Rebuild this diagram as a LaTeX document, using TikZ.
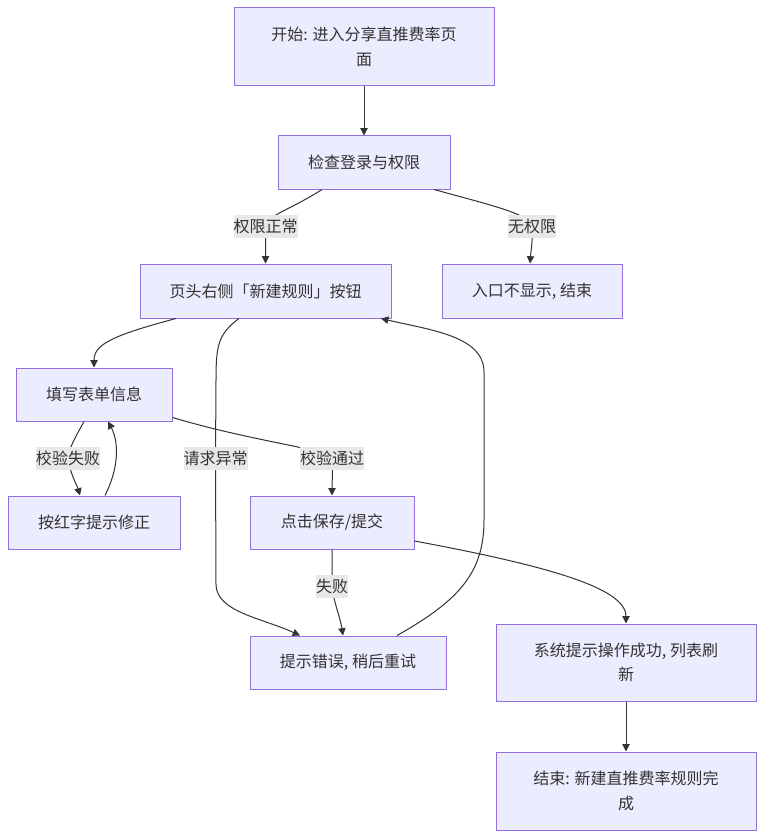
\documentclass[tikz,border=0pt]{standalone}
\usepackage{fontspec}
\newfontfamily\cjkfont{Noto Sans CJK SC}
\usetikzlibrary{arrows.meta,calc}
\definecolor{boxfill}{HTML}{ECECFF}
\definecolor{boxline}{HTML}{9370DB}
\definecolor{edgegray}{HTML}{333333}
\definecolor{txtgray}{HTML}{333333}
\definecolor{lblfill}{HTML}{E8E8E8}
\tikzset{
  flowbox/.style={draw=boxline, fill=boxfill, line width=0.75pt, text=txtgray,
    font=\cjkfont\fontsize{12pt}{18.5pt}\selectfont, align=center, inner sep=0pt},
  flowedge/.style={draw=edgegray, line width=0.75pt, -{Triangle[length=5.5pt,width=5.5pt]}},
  edgelabel/.style={fill=lblfill, text=txtgray, font=\cjkfont\fontsize{12pt}{18.5pt}\selectfont,
    inner xsep=0pt, inner ysep=0pt, minimum height=17.25pt}
}
\begin{document}
\begin{tikzpicture}[x=0.75pt, y=-0.75pt]
            \useasboundingbox (0,0) rectangle (764,838);
            % boxes
            \node[flowbox, minimum width=195pt, minimum height=58.5pt] (start) at (364,47) {开始: 进入分享直推费率页\\面};
            \node[flowbox, minimum width=129pt, minimum height=39.75pt] (check) at (364,162.5) {检查登录与权限};
            \node[flowbox, minimum width=188.25pt, minimum height=40.5pt] (btn) at (265.5,291) {页头右侧「新建规则」按钮};
            \node[flowbox, minimum width=135pt, minimum height=40.5pt] (noauth) at (532,291) {入口不显示, 结束};
            \node[flowbox, minimum width=117pt, minimum height=39.75pt] (fill) at (94,394.5) {填写表单信息};
            \node[flowbox, minimum width=129pt, minimum height=39.75pt] (fix) at (94,522.5) {按红字提示修正};
            \node[flowbox, minimum width=123pt, minimum height=39.75pt] (save) at (332,522.5) {点击保存/提交};
            \node[flowbox, minimum width=147pt, minimum height=39.75pt] (err) at (348,662.5) {提示错误, 稍后重试};
            \node[flowbox, minimum width=195pt, minimum height=57.75pt] (ok) at (626,662.5) {系统提示操作成功, 列表刷\\新};
            \node[flowbox, minimum width=195pt, minimum height=58.5pt] (done) at (626,791) {结束: 新建直推费率规则完\\成};
            % edges
            \draw[flowedge] (start) -- (check);
            \draw[flowedge] ($(check.south)+(-42,0)$) .. controls (290,210) and (266,216) .. (265.5,226)
                node[edgelabel] (lOk) {权限正常} .. controls (265.5,240) and (265.5,250) .. (btn.north);
            \draw[flowedge] ($(check.south)+(70,0)$) .. controls (490,205) and (530,214) .. (532,226)
                node[edgelabel] (lDeny) {无权限} .. controls (533,240) and (531,250) .. ($(noauth.north)+(-2,0)$);
            \draw[flowedge] ($(btn.south)+(-89.5,0)$) .. controls (110,336) and (94,345) .. (fill.north);
            \draw[flowedge] ($(fill.south)+(-10,0)$) .. controls (76,436) and (69,448) .. (68,458)
                node[edgelabel] (lFail) {校验失败} .. controls (70,474) and (77,485) .. ($(fix.north)+(-14,0)$);
            \draw[flowedge] ($(fix.north)+(11,0)$) .. controls (119,468) and (119,442) .. ($(fill.south)+(14,0)$);
            \draw[flowedge] ($(fill.south east)+(0,-4)$) .. controls (255,442) and (322,448) .. (332,458)
                node[edgelabel] (lPass) {校验通过} .. controls (333,472) and (332,482) .. (save.north);
            \draw[flowedge] ($(btn.south)+(-26.5,0)$) .. controls (218,334) and (216,346) .. (216,380)
                -- (215.5,458) node[edgelabel] (lReq) {请求异常} -- (216,585)
                .. controls (217,612) and (262,618) .. ($(err.north)+(-48,0)$);
            \draw[flowedge] (save.south) -- (332,586) node[edgelabel] (lSave) {失败}
                .. controls (334,604) and (340,616) .. ($(err.north)+(-5,0)$);
            \draw[flowedge] ($(err.north)+(49,0)$) .. controls (460,600) and (484,572) .. (484,520)
                -- (484,372) .. controls (484,336) and (430,330) .. ($(btn.south)+(115.5,0)$);
            \draw[flowedge] ($(save.east)+(0,18.5)$) .. controls (560,568) and (626,590) .. (ok.north);
            \draw[flowedge] (ok) -- (done);
\end{tikzpicture}
\end{document}
